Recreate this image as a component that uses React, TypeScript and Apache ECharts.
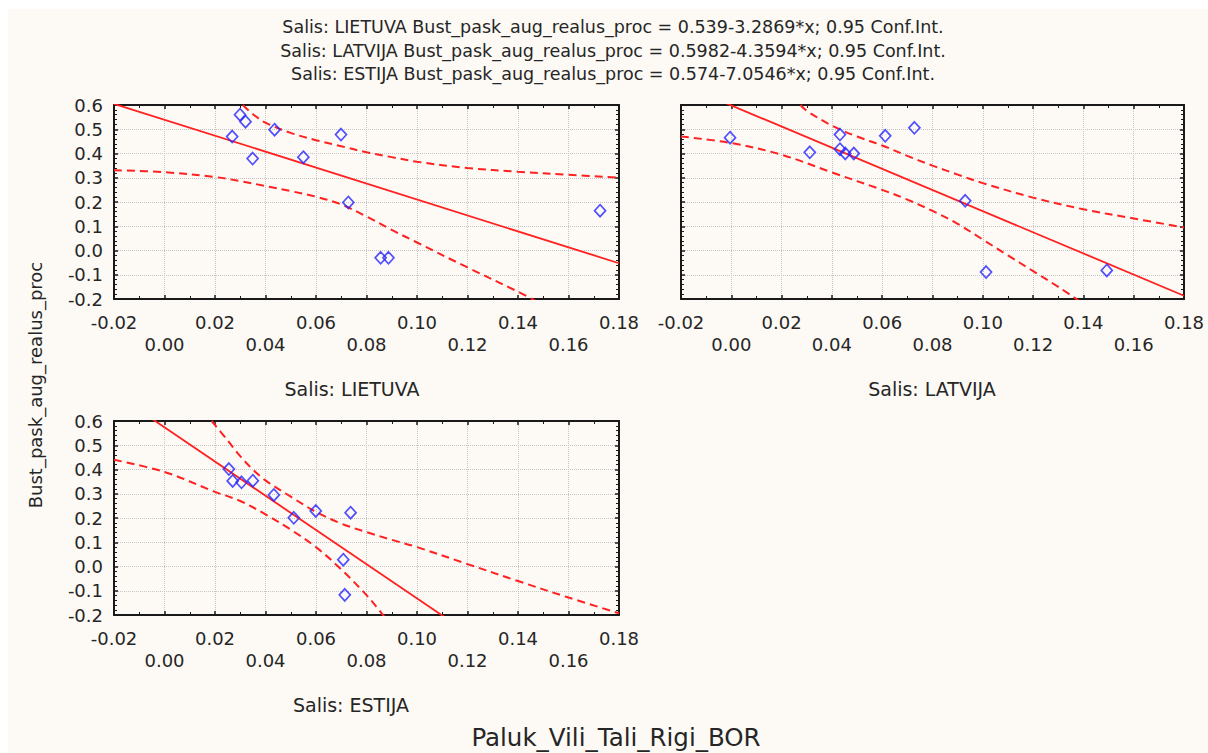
import React, { useEffect, useRef } from "react";
import * as echarts from "echarts";

// ---- data ----
const TITLE_LINES = [
  "Salis: LIETUVA Bust_pask_aug_realus_proc = 0.539-3.2869*x; 0.95 Conf.Int.",
  "Salis: LATVIJA Bust_pask_aug_realus_proc = 0.5982-4.3594*x; 0.95 Conf.Int.",
  "Salis: ESTIJA Bust_pask_aug_realus_proc = 0.574-7.0546*x; 0.95 Conf.Int.",
];
const PANEL_CAPTIONS = ["Salis: LIETUVA", "Salis: LATVIJA", "Salis: ESTIJA"];
const X_TITLE = "Paluk_Vili_Tali_Rigi_BOR";
const Y_TITLE = "Bust_pask_aug_realus_proc";

const LIETUVA_POINTS = [
  [0.0299, 0.56], [0.0321, 0.531], [0.0268, 0.47], [0.0349, 0.379], [0.0436, 0.498],
  [0.055, 0.385], [0.0699, 0.478], [0.0728, 0.198], [0.0856, -0.03], [0.0887, -0.03],
  [0.1725, 0.164],
];
const LIETUVA_FIT = [[-0.02, 0.6047], [0.18, -0.0526]];
const LIETUVA_UPPER = [
  [0.031, 0.6], [0.035, 0.562], [0.04, 0.527], [0.05, 0.485], [0.06, 0.455], [0.07, 0.43],
  [0.08, 0.405], [0.09, 0.385], [0.1, 0.366], [0.12, 0.34], [0.14, 0.325], [0.16, 0.312],
  [0.18, 0.3],
];
const LIETUVA_LOWER = [
  [-0.02, 0.331], [0.0, 0.323], [0.02, 0.303], [0.03, 0.286], [0.04, 0.266], [0.05, 0.245],
  [0.06, 0.222], [0.07, 0.19], [0.08, 0.14], [0.09, 0.085], [0.1, 0.033], [0.12, -0.07],
  [0.14, -0.17], [0.15, -0.225],
];

const LATVIJA_POINTS = [
  [-0.0005, 0.465], [0.0312, 0.405], [0.0432, 0.478], [0.0432, 0.418], [0.0453, 0.4],
  [0.0487, 0.4], [0.0612, 0.473], [0.0728, 0.506], [0.093, 0.205], [0.1013, -0.089],
  [0.1493, -0.082],
];
const LATVIJA_FIT = [[-0.02, 0.6854], [0.18, -0.1865]];
const LATVIJA_UPPER = [
  [0.0275, 0.6], [0.03, 0.576], [0.04, 0.515], [0.05, 0.47], [0.06, 0.433], [0.07, 0.39],
  [0.08, 0.35], [0.09, 0.313], [0.1, 0.278], [0.12, 0.218], [0.14, 0.17], [0.16, 0.132],
  [0.18, 0.095],
];
const LATVIJA_LOWER = [
  [-0.02, 0.47], [0.0, 0.443], [0.02, 0.395], [0.04, 0.322], [0.06, 0.25], [0.07, 0.21],
  [0.08, 0.163], [0.09, 0.11], [0.1, 0.045], [0.11, -0.02], [0.12, -0.085], [0.13, -0.15],
  [0.14, -0.22],
];

const ESTIJA_POINTS = [
  [0.0255, 0.402], [0.027, 0.353], [0.0305, 0.347], [0.035, 0.354], [0.0433, 0.295],
  [0.0512, 0.201], [0.0599, 0.229], [0.0737, 0.222], [0.0708, 0.028], [0.0714, -0.117],
];
const ESTIJA_FIT = [[-0.02, 0.7151], [0.12, -0.2726]];
const ESTIJA_UPPER = [
  [0.0187, 0.6], [0.025, 0.52], [0.03, 0.455], [0.035, 0.4], [0.04, 0.355], [0.05, 0.288],
  [0.06, 0.225], [0.07, 0.177], [0.08, 0.142], [0.09, 0.11], [0.1, 0.08], [0.12, 0.01],
  [0.14, -0.06], [0.16, -0.128], [0.18, -0.193],
];
const ESTIJA_LOWER = [
  [-0.02, 0.44], [0.0, 0.39], [0.02, 0.308], [0.03, 0.27], [0.04, 0.215], [0.05, 0.152],
  [0.06, 0.08], [0.07, -0.012], [0.08, -0.118], [0.085, -0.18], [0.088, -0.22],
];

const X_MIN = -0.02;
const X_MAX = 0.18;
const X_STEP = 0.02;
const Y_MIN = -0.2;
const Y_MAX = 0.6;
const Y_STEP = 0.1;

const PANELS = [
  { points: LIETUVA_POINTS, fit: LIETUVA_FIT, upper: LIETUVA_UPPER, lower: LIETUVA_LOWER },
  { points: LATVIJA_POINTS, fit: LATVIJA_FIT, upper: LATVIJA_UPPER, lower: LATVIJA_LOWER },
  { points: ESTIJA_POINTS, fit: ESTIJA_FIT, upper: ESTIJA_UPPER, lower: ESTIJA_LOWER },
];

// ---- layout / style ----
const FONT = '"DejaVu Sans", "Liberation Sans", sans-serif';
const GRIDS = [
  { left: 114, top: 105, width: 505, height: 194, showY: true },
  { left: 681, top: 105, width: 503, height: 194, showY: false },
  { left: 114, top: 421, width: 505, height: 194, showY: true },
];
const FRAME = "#1a1a1a";
const RED = "#ff2020";
const BLUE = "#2424ff";
const TEXT = "#262626";

const fmtX = (v: number, i: number) => {
  const s = (Math.abs(v) < 1e-9 ? 0 : v).toFixed(2);
  return i % 2 === 0 ? s : "\n" + s;
};
const fmtY = (v: number) => (Math.abs(v) < 1e-9 ? 0 : v).toFixed(1);

export default function App() {
  const ref = useRef<HTMLDivElement>(null);

  useEffect(() => {
    if (!ref.current) return;
    const chart = echarts.init(ref.current, undefined, { renderer: "svg" });

    const grid = GRIDS.map((g) => ({
      left: g.left, top: g.top, width: g.width, height: g.height,
      containLabel: false, outerBoundsMode: "none", show: false,
    }));

    const xAxis: any[] = [];
    const yAxis: any[] = [];
    GRIDS.forEach((g, i) => {
      const common = {
        type: "value", gridIndex: i, min: X_MIN, max: X_MAX, interval: X_STEP,
        axisLine: { show: true, onZero: false, lineStyle: { color: FRAME, width: 2 } },
        axisTick: { show: true, inside: true, length: 4, lineStyle: { color: FRAME, width: 1.5 } },
        minorTick: { show: true, splitNumber: 2, length: 3, lineStyle: { color: FRAME, width: 1 } },
      };
      xAxis.push({
        ...common, position: "bottom",
        splitLine: { show: true, lineStyle: { color: "#c4c4c4", type: "dotted", width: 1 } },
        axisLabel: {
          show: true, formatter: fmtX, fontSize: 18, fontFamily: FONT, color: TEXT,
          margin: 12, lineHeight: 22,
        },
      });
      xAxis.push({
        ...common, position: "top", splitLine: { show: false }, axisLabel: { show: false },
      });
      const ycommon = {
        type: "value", gridIndex: i, min: Y_MIN, max: Y_MAX, interval: Y_STEP,
        axisLine: { show: true, onZero: false, lineStyle: { color: FRAME, width: 2 } },
        axisTick: { show: true, inside: true, length: 4, lineStyle: { color: FRAME, width: 1.5 } },
        minorTick: { show: true, splitNumber: 5, length: 3, lineStyle: { color: FRAME, width: 1 } },
      };
      yAxis.push({
        ...ycommon, position: "left",
        splitLine: { show: true, lineStyle: { color: "#c4c4c4", type: "dotted", width: 1 } },
        axisLabel: {
          show: g.showY, formatter: fmtY, fontSize: 18, fontFamily: FONT, color: TEXT, margin: 11,
        },
      });
      yAxis.push({
        ...ycommon, position: "right", splitLine: { show: false }, axisLabel: { show: false },
      });
    });

    const series: any[] = [];
    PANELS.forEach((p, i) => {
      const xi = i * 2;
      const yi = i * 2;
      const band = (data: number[][]) => ({
        type: "line", xAxisIndex: xi, yAxisIndex: yi, data, smooth: 0.35,
        showSymbol: false, symbol: "none", clip: true, silent: true, z: 3,
        lineStyle: { color: RED, width: 2, type: [8, 5] },
      });
      series.push(band(p.upper));
      series.push(band(p.lower));
      series.push({
        type: "line", xAxisIndex: xi, yAxisIndex: yi, data: p.fit, showSymbol: false,
        symbol: "none", clip: true, silent: true, z: 3,
        lineStyle: { color: RED, width: 1.8, type: "solid" },
      });
      series.push({
        type: "scatter", xAxisIndex: xi, yAxisIndex: yi, data: p.points, symbol: "diamond",
        symbolSize: [11, 12], z: 4,
        itemStyle: { color: "rgba(0,0,0,0)", borderColor: BLUE, borderWidth: 1.7 },
      });
    });

    const textStyle = (size: number) => ({ fontFamily: FONT, fontSize: size, fill: TEXT });

    const graphic: any[] = [
      { type: "rect", shape: { x: 0, y: 0, width: 1208, height: 9 }, style: { fill: "#ffffff" }, silent: true },
      { type: "rect", shape: { x: 0, y: 0, width: 8, height: 753 }, style: { fill: "#ffffff" }, silent: true },
      ...TITLE_LINES.map((t, i) => ({
        type: "text", x: 613, y: [27, 51, 74][i],
        style: { ...textStyle(17.5), text: t, textAlign: "center", textVerticalAlign: "middle" },
      })),
      {
        type: "text", x: 352, y: 389,
        style: { ...textStyle(19), text: PANEL_CAPTIONS[0], textAlign: "center", textVerticalAlign: "middle" },
      },
      {
        type: "text", x: 932, y: 389,
        style: { ...textStyle(19), text: PANEL_CAPTIONS[1], textAlign: "center", textVerticalAlign: "middle" },
      },
      {
        type: "text", x: 351, y: 705,
        style: { ...textStyle(19), text: PANEL_CAPTIONS[2], textAlign: "center", textVerticalAlign: "middle" },
      },
      {
        type: "text", x: 616, y: 737,
        style: { ...textStyle(24.5), text: X_TITLE, textAlign: "center", textVerticalAlign: "middle" },
      },
      {
        type: "text", x: 35, y: 385, rotation: Math.PI / 2,
        style: { ...textStyle(18), text: Y_TITLE, textAlign: "center", textVerticalAlign: "middle" },
      },
    ];

    chart.setOption({
      animation: false,
      backgroundColor: "#fdfaf5",
      grid,
      xAxis,
      yAxis,
      series,
      graphic,
    });

    return () => chart.dispose();
  }, []);

  return (
    <div
      ref={ref}
      style={{ position: "fixed", left: 0, top: 0, width: 1208, height: 753 }}
    />
  );
}
